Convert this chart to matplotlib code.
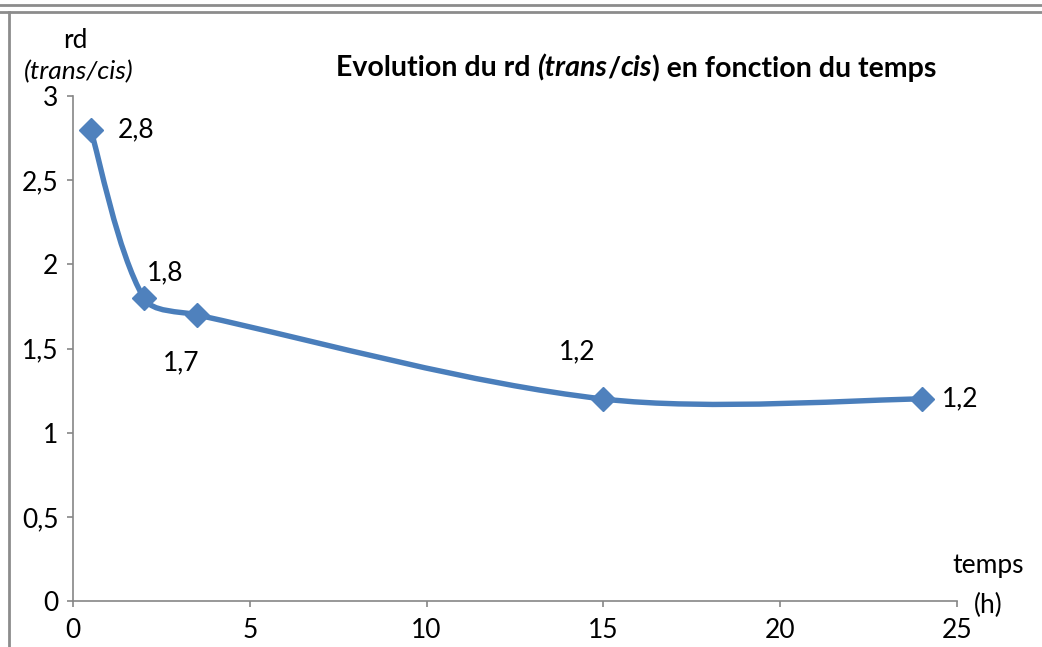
import numpy as np
import matplotlib
matplotlib.use('Agg')
import matplotlib.pyplot as plt
from matplotlib.path import Path
from matplotlib.patches import PathPatch
from matplotlib.lines import Line2D

plt.rcParams['font.family'] = ['Lato', 'DejaVu Sans']

# data
temps = [0.5, 2, 3.5, 15, 24]
rd = [2.8, 1.8, 1.7, 1.2, 1.2]
labels = ['2,8', '1,8', '1,7', '1,2', '1,2']
label_offsets = [(27, 0), (3, 25), (-34, -48), (-45, 47), (20, 0)]  # px, left edge of label

xticks = [0, 5, 10, 15, 20, 25]
yticks = [0, 0.5, 1, 1.5, 2, 2.5, 3]
ytick_labels = ['0', '0,5', '1', '1,5', '2', '2,5', '3']

blue = '#4A7EBB'
grey = '#868686'
fs = 19

fig = plt.figure(figsize=(10.42, 6.47), dpi=100)
ax = fig.add_axes([73 / 1042, 46 / 647, 884 / 1042, 505 / 647])

# excel-like smoothed line, bezier handles scaled by segment lengths in pixel space
sx, sy = 884 / 25, 505 / 3
pts = np.column_stack([temps, rd])
pix = pts * [sx, sy]
n = len(pts)
seg = np.hypot(*np.diff(pix, axis=0).T)
verts = [tuple(pts[0])]
codes = [Path.MOVETO]
for i in range(n - 1):
	p0 = pix[max(i - 1, 0)]
	p1 = pix[i]
	p2 = pix[i + 1]
	p3 = pix[min(i + 2, n - 1)]
	lp = seg[i - 1] if i > 0 else seg[i]
	ln = seg[i + 1] if i + 1 < n - 1 else seg[i]
	c1 = p1 + (p2 - p0) * seg[i] / (lp + seg[i]) / 3
	c2 = p2 - (p3 - p1) * seg[i] / (seg[i] + ln) / 3
	for c in (c1, c2, p2):
		verts.append((c[0] / sx, c[1] / sy))
	codes += [Path.CURVE4] * 3
ax.add_patch(PathPatch(Path(verts, codes), fill=False, edgecolor=blue, lw=3.9, capstyle='round', joinstyle='round', zorder=3))
ax.plot(temps, rd, ls='none', marker='D', ms=12, color='#4F81BD', zorder=4)

for x, y, t, off in zip(temps, rd, labels, label_offsets):
	ax.annotate(t, (x, y), xytext=off, textcoords='offset pixels', ha='left', va='center', fontsize=fs)

ax.set_xlim(0, 25)
ax.set_ylim(0, 3)
ax.set_xticks(xticks)
ax.set_yticks(yticks)
ax.set_yticklabels(ytick_labels)
for s in ['top', 'right']:
	ax.spines[s].set_visible(False)
for s in ['left', 'bottom']:
	ax.spines[s].set_color(grey)
	ax.spines[s].set_linewidth(1.2)
ax.tick_params(direction='out', length=4.5, width=1.2, color=grey, labelsize=fs, pad=6)
ax.tick_params(axis='x', pad=8)

# axis titles
fig.text(75 / 1042, 1 - 40 / 647, 'rd', ha='center', va='center', fontsize=fs)
fig.text(79 / 1042, 1 - 72 / 647, '(trans/cis)', ha='center', va='center', fontsize=fs, style='italic')
fig.text(988 / 1042, 1 - 565 / 647, 'temps', ha='center', va='center', fontsize=fs)
fig.text(988 / 1042, 1 - 605 / 647, '(h)', ha='center', va='center', fontsize=fs)

# title in pieces (bold, partly italic)
pieces = [('Evolution du rd ', 'normal'), ('(trans', 'italic'), ('/', 'normal'), ('cis', 'italic'), (') en fonction du temps', 'normal')]
renderer = fig.canvas.get_renderer()
texts = []
total = 0
for s, st in pieces:
	t = fig.text(0, 1 - 68 / 647, s, fontsize=20.5, fontweight='bold', style=st, va='center', ha='left')
	w = t.get_window_extent(renderer).width
	texts.append((t, w))
	total += w
x0 = 636 - total / 2
for t, w in texts:
	t.set_x(x0 / 1042)
	x0 += w

# frame lines of the excel box
fig.add_artist(Line2D([0, 1], [1 - 4.5 / 647, 1 - 4.5 / 647], color='#8C8C8C', lw=2))
fig.add_artist(Line2D([0, 1], [1 - 11.5 / 647, 1 - 11.5 / 647], color='#8C8C8C', lw=2))
fig.add_artist(Line2D([8.5 / 1042, 8.5 / 1042], [0, 1 - 11.5 / 647], color='#8C8C8C', lw=2))

plt.savefig('out.png', dpi=100)
